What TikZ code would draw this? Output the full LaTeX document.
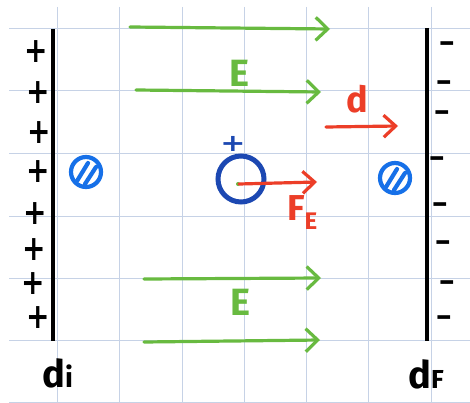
\documentclass[tikz,border=0pt]{standalone}
\usepackage{fontspec}
\setmainfont{Fira Sans}
\newfontfamily\symfont{DejaVu Sans}
\usetikzlibrary{positioning,arrows.meta}

\definecolor{gridblue}{RGB}{198,210,230}
\definecolor{fieldgreen}{RGB}{104,186,64}
\definecolor{forcered}{RGB}{236,62,40}
\definecolor{ionblue}{RGB}{28,72,178}
\definecolor{atomblue}{RGB}{22,112,232}

\newcommand{\plussign}{\scalebox{1}[1.25]{+}}

\begin{document}
\begin{tikzpicture}[
    x=1pt, y=-1pt,
    gridline/.style={gridblue, line width=1pt},
    plate/.style={black, line width=4pt},
    field/.style={fieldgreen, line width=3.2pt, line cap=round,
        -{Straight Barb[length=12pt,width=23pt]}},
    force/.style={forcered, line width=3.2pt, line cap=round,
        -{Straight Barb[length=12pt,width=22pt]}},
    pchg/.style={font=\symfont\fontsize{28}{28}\selectfont\bfseries, inner sep=0pt},
    nchg/.style={font=\fontsize{30}{30}\selectfont\bfseries, inner sep=0pt},
    flab/.style={text=fieldgreen, font=\fontsize{38}{38}\selectfont\bfseries, inner sep=0pt, anchor=base},
    rlab/.style={text=forcered, font=\fontsize{36}{36}\selectfont\bfseries, inner sep=0pt, anchor=base},
    plab/.style={font=\fontsize{38}{38}\selectfont\bfseries, inner sep=0pt, anchor=base west},
    ion/.style={circle, draw=ionblue, line width=5pt, minimum size=46pt, inner sep=0pt},
    atom/.style={atomblue, line width=4.2pt, line cap=round},
    neutral/.pic={
        \draw[atom] (0,0) circle[radius=15pt];
        \draw[atom] (-9,9) -- (2,-9);
        \draw[atom] (-1,12) -- (10,-5);
    }
]
    \fill[white] (0,0) rectangle (470,403);
    \useasboundingbox (0,0) rectangle (470,403);

    % Grid paper
    \draw[gridline] (57,7) -- (57,403);
    \draw[gridline] (119,7) -- (119,403);
    \draw[gridline] (182,7) -- (182,403);
    \draw[gridline] (244,7) -- (244,403);
    \draw[gridline] (306,7) -- (306,403);
    \draw[gridline] (368,7) -- (368,403);
    \draw[gridline] (431,7) -- (431,403);
    \draw[gridline] (9,29) -- (470,29);
    \draw[gridline] (9,91) -- (470,91);
    \draw[gridline] (9,154) -- (470,154);
    \draw[gridline] (9,216) -- (470,216);
    \draw[gridline] (9,278) -- (470,278);
    \draw[gridline] (9,340) -- (470,340);
    \draw[gridline] (9,402) -- (470,402);

    % Plates
    \coordinate (lefttop) at (53,29);
    \coordinate (leftbot) at (53,341);
    \coordinate (righttop) at (427,28);
    \coordinate (rightbot) at (427,341);
    \draw[plate] (lefttop) -- (leftbot);
    \draw[plate] (righttop) -- (rightbot);

    % Charges on the plates
    \node[pchg] (p1) at (36,52) {\plussign};
    \node[pchg] (p2) at (38,93) {\plussign};
    \node[pchg] (p3) at (39,133) {\plussign};
    \node[pchg] (p4) at (38,172) {\plussign};
    \node[pchg] (p5) at (35,214) {\plussign};
    \node[pchg] (p6) at (34,250) {\plussign};
    \node[pchg] (p7) at (33,284) {\plussign};
    \node[pchg] (p8) at (38,318) {\plussign};

    \node[nchg] (m1) at (447,48) {−};
    \node[nchg] (m2) at (444,87) {−};
    \node[nchg] (m3) at (442,117) {−};
    \node[nchg] (m4) at (437,163) {−};
    \node[nchg] (m5) at (440,209) {−};
    \node[nchg] (m6) at (443,247) {−};
    \node[nchg] (m7) at (447,287) {−};
    \node[nchg] (m8) at (444,322) {−};

    % Field lines
    \coordinate (e1a) at (130,27);
    \coordinate (e1b) at (330,29);
    \coordinate (e2a) at (136,90);
    \coordinate (e2b) at (321,92);
    \coordinate (e3a) at (144,279);
    \coordinate (e3b) at (321,278);
    \coordinate (e4a) at (144,342);
    \coordinate (e4b) at (320,340);
    \draw[field] (e1a) -- (e1b);
    \draw[field] (e2a) -- (e2b);
    \draw[field] (e3a) -- (e3b);
    \draw[field] (e4a) -- (e4b);
    \node[flab] (etop) at (239,87) {E};
    \node[flab] (ebot) at (240,315) {E};

    % Displacement
    \coordinate (da) at (326,127);
    \coordinate (db) at (398,126);
    \draw[force] (da) -- (db);
    \node[rlab] (dlabel) at (357,113) {d};

    % Ion and force
    \node[ion] (ion) at (241,179) {};
    \node[text=ionblue, font=\symfont\fontsize{30}{30}\selectfont\bfseries, inner sep=0pt] (ionplus) at (233,144) {\scalebox{1}[0.8]{+}};
    \fill[fieldgreen] (238,184) circle[radius=2pt];
    \coordinate (fa) at (239,184);
    \coordinate (fb) at (317,182);
    \draw[force] (fa) -- (fb);
    \node[rlab, anchor=base west] (felabel) at (287,220) {F\raisebox{-9pt}{\fontsize{24}{24}\selectfont E}};

    % Neutral particles
    \pic (nleft) at (86,172) {neutral};
    \pic (nright) at (395,178) {neutral};

    % Names
    \node[plab] (dinode) at (42,387) {d\fontsize{28}{28}\selectfont i};
    \node[plab] (dfnode) at (408,388) {d\fontsize{26}{26}\selectfont F};
\end{tikzpicture}
\end{document}
